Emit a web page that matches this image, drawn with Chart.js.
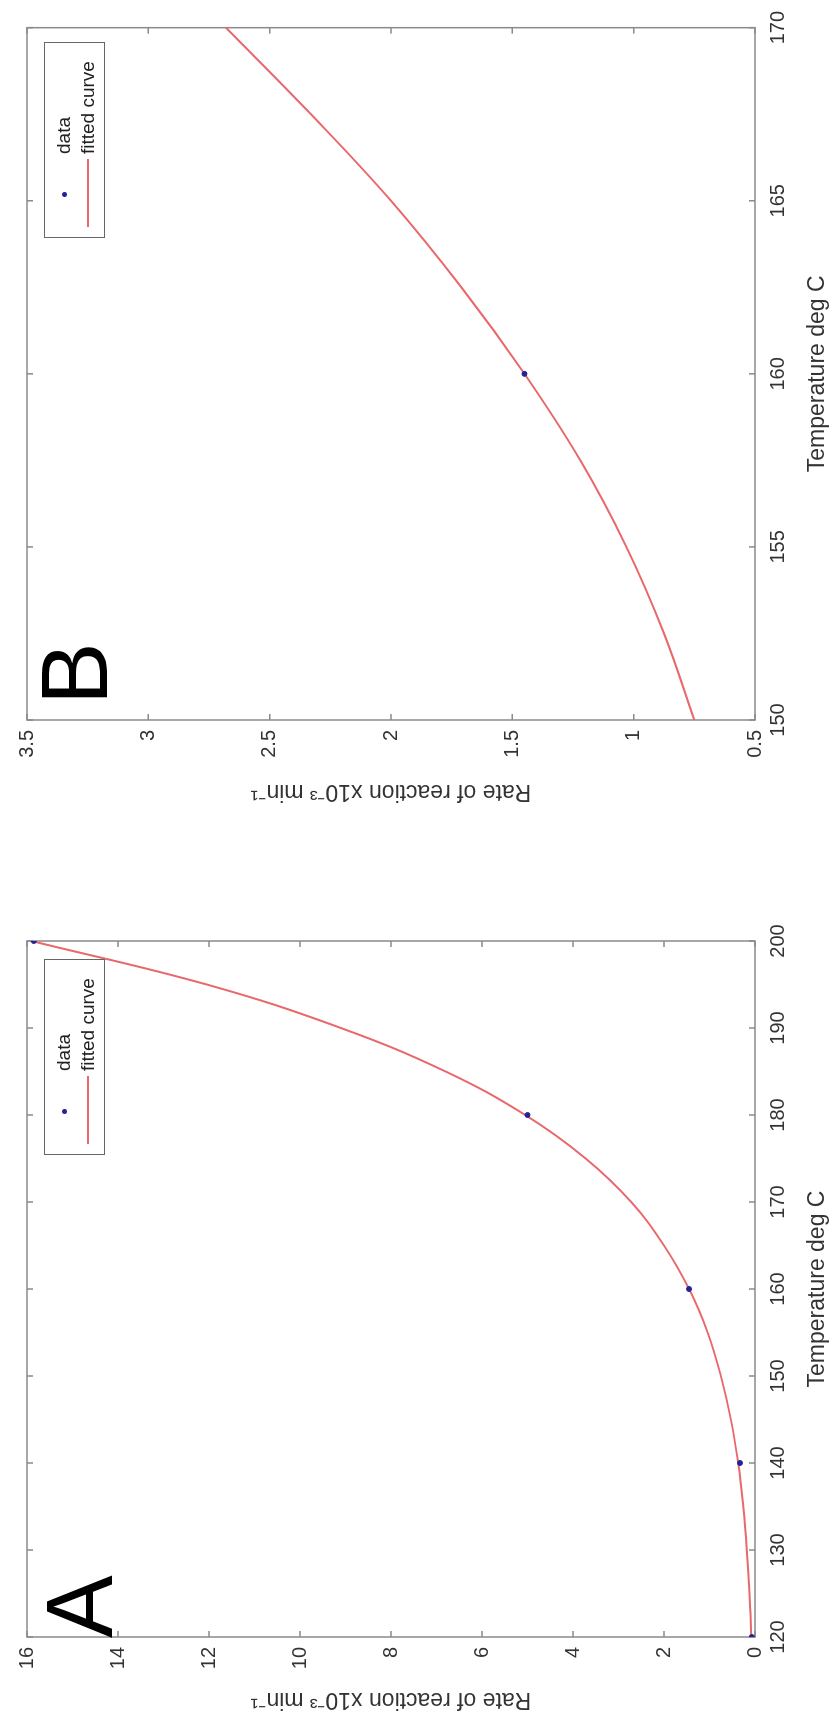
<!DOCTYPE html>
<html>
<head>
<meta charset="utf-8">
<script src="https://cdn.jsdelivr.net/npm/chart.js@4.4.0/dist/chart.umd.min.js"></script>
<style>
    html, body { margin: 0; padding: 0; background: #fff; }
    body { width: 829px; height: 1730px; position: relative; overflow: hidden;
           font-family: 'Liberation Sans', Arial, sans-serif; }
    .panel { position: absolute; left: 0; width: 829px; }
    .rot { position: absolute; left: 0; top: 0; height: 829px; transform-origin: 0 0; }
    .rot canvas { display: block; }
    .legend { position: absolute; top: 44px; width: 196px; height: 61px; box-sizing: border-box;
              border: 1.5px solid #666; background: #fff; }
    .legend .dot { position: absolute; left: 40px; top: 17px; width: 5px; height: 5px; border-radius: 50%; background: #23239a; }
    .legend .line { position: absolute; left: 10px; top: 42px; width: 68px; height: 2px; background: #e8686c; }
    .legend .txt { position: absolute; left: 83px; font-size: 19px; line-height: 20px; color: #222; white-space: nowrap; }
    .letter { position: absolute; font-size: 94px; line-height: 1; color: #000; }
</style>
</head>
<body>

<div class="panel" id="panelB" style="top:0; height:840px;">
    <div class="rot" id="rotB">
        <canvas id="chartB"></canvas>
        <div class="legend" id="legendB">
            <div class="dot"></div><div class="txt" style="top:9px">data</div>
            <div class="line"></div><div class="txt" style="top:33px">fitted curve</div>
        </div>
        <div class="letter" id="letterB">B</div>
    </div>
</div>

<div class="panel" id="panelA" style="top:840px; height:890px;">
    <div class="rot" id="rotA">
        <canvas id="chartA"></canvas>
        <div class="legend" id="legendA">
            <div class="dot"></div><div class="txt" style="top:9px">data</div>
            <div class="line"></div><div class="txt" style="top:33px">fitted curve</div>
        </div>
        <div class="letter" id="letterA">A</div>
    </div>
</div>

<script>
// Panel A: full temperature range
const curveTempA = [120, 125, 130, 135, 140, 145, 150, 155, 160, 165, 170, 175, 180, 185, 190, 195, 200];
const curveRateA = [0.08, 0.12, 0.18, 0.26, 0.37, 0.53, 0.75, 1.04, 1.45, 2.0, 2.72, 3.72, 5.05, 6.8, 9.1, 12.05, 15.9];
const dataTempA = [120, 140, 160, 180, 200];
const dataRateA = [0.07, 0.33, 1.45, 5.0, 15.85];
const tempTicksA = [120, 130, 140, 150, 160, 170, 180, 190, 200];
const rateTicksA = [0, 2, 4, 6, 8, 10, 12, 14, 16];

// Panel B: zoom on 150-170
const curveTempB = [150, 152.5, 155, 157.5, 160, 162.5, 165, 167.5, 170];
const curveRateB = [0.75, 0.875, 1.03, 1.22, 1.45, 1.71, 2.0, 2.33, 2.68];
const dataTempB = [160];
const dataRateB = [1.45];
const tempTicksB = [150, 155, 160, 165, 170];
const rateTicksB = [0.5, 1, 1.5, 2, 2.5, 3, 3.5];

const FONT = "'Liberation Sans', Arial, sans-serif";
const H = 829;

// frame with inward ticks on all four sides (matlab style)
const boxPlugin = {
    id: 'box',
    beforeDatasetsDraw(chart) {
        const {ctx, chartArea: a, scales: {x, y}} = chart;
        ctx.save();
        ctx.strokeStyle = '#8a8a8a';
        ctx.lineWidth = 1.5;
        ctx.strokeRect(a.left, a.top, a.right - a.left, a.bottom - a.top);
        ctx.beginPath();
        x.ticks.forEach(t => {
            const px = x.getPixelForValue(t.value);
            ctx.moveTo(px, a.bottom); ctx.lineTo(px, a.bottom - 6);
            ctx.moveTo(px, a.top); ctx.lineTo(px, a.top + 6);
        });
        y.ticks.forEach(t => {
            const py = y.getPixelForValue(t.value);
            ctx.moveTo(a.left, py); ctx.lineTo(a.left + 6, py);
            ctx.moveTo(a.right, py); ctx.lineTo(a.right - 6, py);
        });
        ctx.stroke();
        ctx.restore();
    }
};

function makePanel(p) {
    const rot = document.getElementById(p.rotId);
    rot.style.width = p.W + 'px';
    rot.style.transform = 'translate(0,' + p.W + 'px) rotate(-90deg)';

    const plotRight = p.W - p.padRight;
    const legend = document.getElementById(p.legendId);
    legend.style.left = (plotRight - 18 - 196) + 'px';
    const letter = document.getElementById(p.letterId);
    letter.style.left = (p.yAxisW + p.letterDx) + 'px';
    letter.style.top = p.letterTop + 'px';

    const canvas = document.getElementById(p.canvasId);
    canvas.width = p.W;
    canvas.height = H;
    canvas.style.width = p.W + 'px';
    canvas.style.height = H + 'px';

    new Chart(canvas.getContext('2d'), {
        type: 'scatter',
        data: {
            datasets: [{
                label: 'fitted curve',
                data: p.curveTemp.map((t, i) => ({x: t, y: p.curveRate[i]})),
                showLine: true,
                borderColor: '#e8686c',
                borderWidth: 2,
                pointRadius: 0,
                tension: 0.4,
                order: 2
            }, {
                label: 'data',
                data: p.dataTemp.map((t, i) => ({x: t, y: p.dataRate[i]})),
                pointRadius: 2.5,
                backgroundColor: '#23239a',
                borderColor: '#23239a',
                order: 1
            }]
        },
        options: {
            responsive: false,
            animation: false,
            layout: { padding: { top: 27, right: p.padRight, left: 0, bottom: 0 } },
            plugins: { legend: { display: false }, tooltip: { enabled: false } },
            scales: {
                x: {
                    type: 'linear',
                    min: p.tempTicks[0],
                    max: p.tempTicks[p.tempTicks.length - 1],
                    afterBuildTicks: s => { s.ticks = p.tempTicks.map(v => ({value: v})); },
                    afterFit: s => { s.height = 74; },
                    grid: { display: false, drawTicks: false },
                    border: { display: false },
                    ticks: { padding: 11, color: '#333', font: { size: 20, family: FONT },
                             maxRotation: 0, autoSkip: false, callback: v => String(v) },
                    title: { display: true, text: 'Temperature deg C', color: '#333',
                             font: { size: 23, family: FONT, lineHeight: 1 }, padding: { top: 0, bottom: 0 } }
                },
                y: {
                    type: 'linear',
                    min: p.rateTicks[0],
                    max: p.rateTicks[p.rateTicks.length - 1],
                    afterBuildTicks: s => { s.ticks = p.rateTicks.map(v => ({value: v})); },
                    afterFit: s => { s.width = p.yAxisW; },
                    grid: { display: false, drawTicks: false },
                    border: { display: false },
                    ticks: { padding: 10, color: '#333', font: { size: 20, family: FONT },
                             autoSkip: false, callback: v => String(v) },
                    title: { display: true, text: 'Rate of reaction x10\u207B\u00B3 min\u207B\u00B9', color: '#333',
                             font: { size: 23, family: FONT, lineHeight: 1 }, padding: { top: p.titlePad, bottom: 0 } }
                }
            }
        },
        plugins: [boxPlugin]
    });
}

makePanel({
    rotId: 'rotB', canvasId: 'chartB', legendId: 'legendB', letterId: 'letterB',
    W: 840, yAxisW: 120, padRight: 24, titlePad: 37, letterDx: 15, letterTop: 28,
    curveTemp: curveTempB, curveRate: curveRateB, dataTemp: dataTempB, dataRate: dataRateB,
    tempTicks: tempTicksB, rateTicks: rateTicksB
});

makePanel({
    rotId: 'rotA', canvasId: 'chartA', legendId: 'legendA', letterId: 'letterA',
    W: 890, yAxisW: 93, padRight: 101, titlePad: 19, letterDx: -1, letterTop: 33,
    curveTemp: curveTempA, curveRate: curveRateA, dataTemp: dataTempA, dataRate: dataRateA,
    tempTicks: tempTicksA, rateTicks: rateTicksA
});
</script>
</body>
</html>
